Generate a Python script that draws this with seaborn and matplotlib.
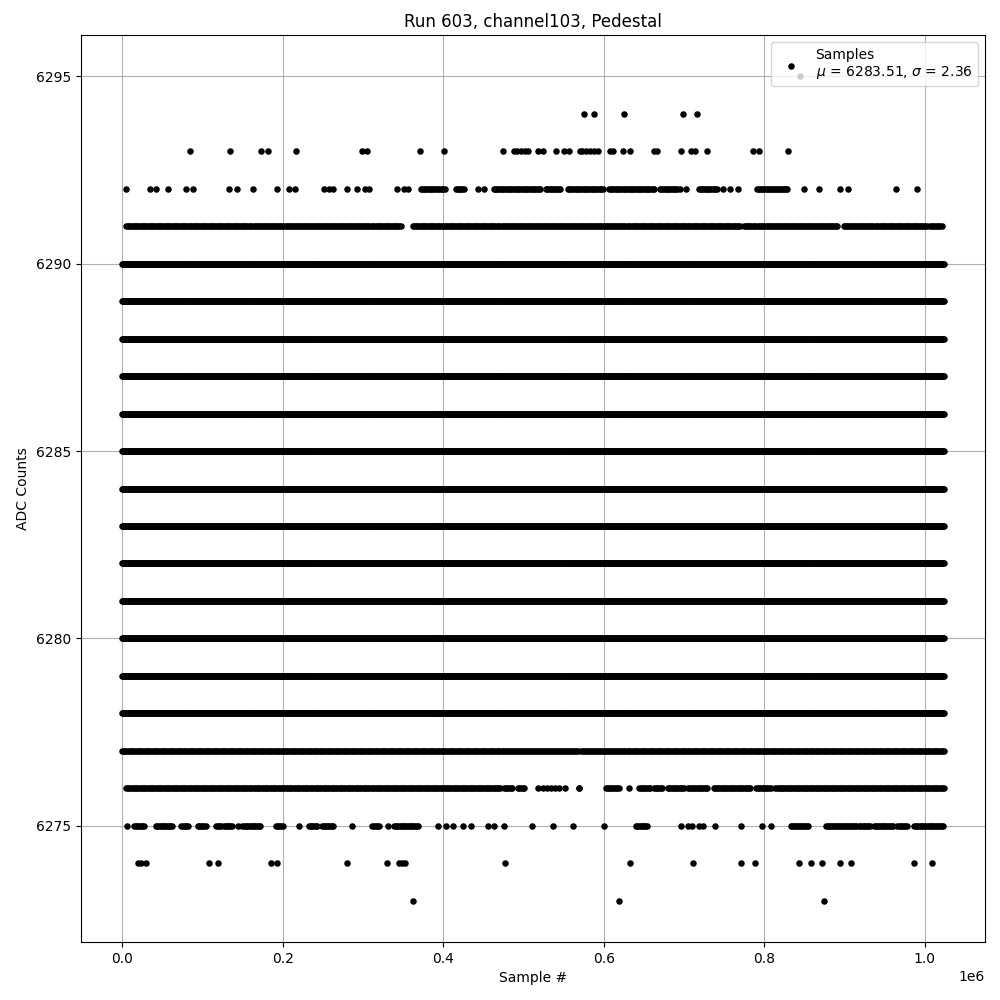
import numpy as np
import pandas as pd
import seaborn as sns
import matplotlib.pyplot as plt

# sample positions are in thousands of samples
last_sample = 1024

# levels that are filled over the whole run
full_levels = [6278, 6279, 6280, 6281, 6282, 6283, 6284, 6285, 6286, 6287, 6288, 6289, 6290]

# levels filled over stretches (start, end)
runs_6277 = [(0, 568), (572, 1024)]
runs_6276 = [(5, 472), (476, 487), (493, 501), (518, 519), (525, 526), (530, 531),
             (535, 536), (540, 541), (545, 546), (552, 553), (569, 570), (603, 619),
             (631, 632), (644, 659), (663, 674), (680, 700), (705, 730), (737, 783),
             (790, 808), (814, 1024)]
runs_6275 = [(15, 28), (42, 63), (74, 82), (94, 105), (117, 123), (127, 138),
             (150, 172), (192, 200), (233, 243), (249, 264), (312, 320), (339, 370),
             (640, 655), (833, 856), (877, 916), (918, 933), (937, 962), (966, 979),
             (987, 1024)]
runs_6291 = [(5, 348), (362, 771), (775, 892), (899, 1004), (1007, 1022)]
runs_6292 = [(372, 403), (416, 427), (463, 522), (528, 547), (555, 600), (607, 663),
             (670, 692), (719, 741), (791, 829)]

# single samples
points_6295 = [844.7]
points_6294 = [575.7, 588.2, 625.5, 698.3, 716.4]
points_6293 = [84.3, 134.9, 173.5, 181.4, 217.1, 298.9, 305.1, 371.5, 400.6, 474.8,
               488.5, 491.9, 496.9, 502.2, 506.0, 517.7, 524.3, 540.8, 550.1, 557.0,
               570.0, 573.2, 577.5, 582.4, 587.4, 593.1, 607.7, 612.3, 623.9, 632.3,
               662.9, 666.3, 697.0, 708.6, 714.0, 728.5, 786.7, 794.1, 829.4]
points_6292 = [5.4, 35.2, 42.7, 57.7, 80.1, 88.8, 133.6, 143.6, 163.5, 193.4, 208.3,
               215.8, 251.2, 257.4, 263.1, 280.6, 293.0, 302.6, 308.0, 342.8, 350.8,
               356.5, 443.7, 450.4, 695.3, 703.2, 748.8, 757.5, 767.5, 849.7, 868.4,
               894.5, 904.5, 964.3, 990.4]
points_6276 = [569.1]
points_6275 = [5.9, 144.8, 220.1, 286.1, 331.6, 393.9, 403.5, 411.8, 425.0, 434.6,
               456.2, 463.6, 476.1, 511.0, 537.1, 562.0, 600.6, 696.1, 705.2, 710.7,
               718.9, 724.4, 738.8, 771.2, 797.4, 808.2]
points_6274 = [19.6, 23.7, 29.9, 108.7, 119.2, 185.6, 193.0, 280.2, 330.0, 345.3,
               348.5, 352.4, 477.3, 632.6, 711.5, 771.2, 788.7, 843.5, 858.4, 872.1,
               894.5, 908.2, 986.7, 1009.1]
points_6273 = [362.8, 619.3, 874.6]

mean_adc = 6283.51
sigma_adc = 2.36


def fill(runs, step):
    xs = []
    for a, b in runs:
        xs.extend(np.arange(a, b + 0.01, step))
    return xs


xs, ys = [], []
for lvl in full_levels:
    seg = fill([(0, last_sample)], 1)
    xs += seg
    ys += [lvl] * len(seg)
for lvl, runs in [(6277, runs_6277), (6276, runs_6276), (6275, runs_6275),
                  (6291, runs_6291), (6292, runs_6292)]:
    seg = fill(runs, 2)
    xs += seg
    ys += [lvl] * len(seg)
for lvl, pts in [(6295, points_6295), (6294, points_6294), (6293, points_6293),
                 (6292, points_6292), (6276, points_6276), (6275, points_6275),
                 (6274, points_6274), (6273, points_6273)]:
    xs += pts
    ys += [lvl] * len(pts)

df = pd.DataFrame({"sample": np.array(xs) * 1000, "adc": ys})

fig, ax = plt.subplots(figsize=(10, 10), dpi=100)
fig.subplots_adjust(left=0.081, right=0.985, top=0.965, bottom=0.058)

sns.scatterplot(data=df, x="sample", y="adc", color="k", s=22, linewidth=0,
                label="Samples\n$\\mu$ = %.2f, $\\sigma$ = %.2f" % (mean_adc, sigma_adc), ax=ax)

ax.set_title("Run 603, channel103, Pedestal")
ax.set_xlabel("Sample #")
ax.set_ylabel("ADC Counts")
ax.grid(True)
ax.set_axisbelow(True)
ax.legend(loc="upper right")

plt.savefig("out.png")
